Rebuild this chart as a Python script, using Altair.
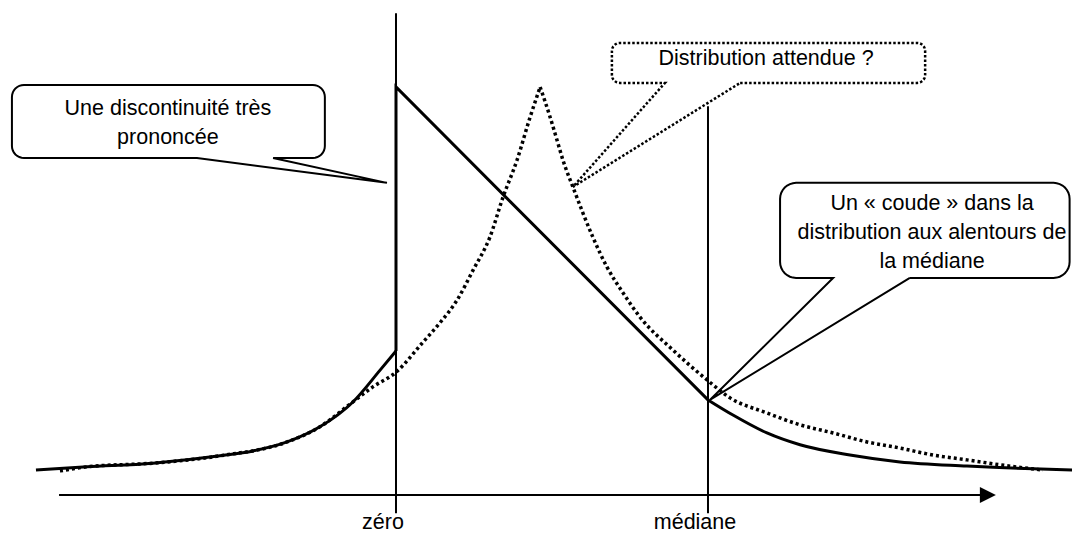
import math
import altair as alt
import pandas as pd

# ---- units: x = position in % of the median (zéro = 0, médiane = 100)
#             y = density, peak = 100
X_MIN, X_MAX = -124.36, 216.67
Y_MIN, Y_MAX = -9.81, 119.36
W, H = 1064, 527

# observed distribution (solid)
solid_left_x = [-115.4, -99.0, -77.9, -56.4, -45.8, -34.9, -24.4, -13.8, -5.1, 0.0]
solid_left_y = [6.1, 6.9, 7.8, 9.6, 10.8, 13.0, 16.7, 22.8, 30.6, 35.3]
solid_mid_x = [0.0, 0.0, 100.0]
solid_mid_y = [35.3, 100.0, 23.3]
solid_right_x = [100.0, 108.0, 118.9, 129.5, 145.5, 161.5, 183.0, 204.2, 219.2]
solid_right_y = [23.3, 19.6, 15.2, 12.3, 9.8, 8.1, 7.1, 6.4, 6.1]

# expected distribution (dotted)
dotted_left_x = [-107.7, -99.0, -77.9, -56.4, -34.9, -24.4, -14.7, -7.4, 0.0, 8.7, 14.1,
                 19.6, 24.7, 30.1, 34.3, 38.8, 42.9, 46.2]
dotted_left_y = [5.9, 6.9, 7.8, 9.6, 13.0, 16.7, 22.3, 26.5, 30.1, 37.5, 42.2,
                 47.8, 55.1, 63.2, 73.0, 82.1, 92.4, 100.0]
dotted_right_x = [46.2, 49.4, 51.6, 53.5, 56.7, 63.1, 67.6, 72.8, 78.2, 88.8, 99.7,
                  107.1, 118.9, 129.5, 140.1, 151.0, 161.5, 172.1, 183.0, 193.6, 207.4]
dotted_right_y = [100.0, 92.6, 87.0, 82.1, 75.5, 63.2, 55.9, 49.5, 43.6, 35.5, 28.2,
                  23.8, 20.1, 17.2, 15.2, 13.0, 11.5, 9.8, 8.6, 7.4, 6.1]

# reference lines and axis
ref_names = ["zéro", "médiane"]
ref_x = [0.0, 100.0]
ref_top = [118.1, 95.3]
ref_bottom = [-4.5, -4.5]
axis_start, axis_end, arrow_x = -108.0, 187.8, 189.7
label_y = -8.3

# callouts
callout_names = ["discontinuite", "attendue", "coude"]
box_left = [-123.1, 69.2, 123.1]
box_right = [-22.8, 169.6, 215.9]
box_bottom = [82.6, 101.0, 53.2]
box_top = [100.5, 110.8, 76.5]
tail_base_left = [-63.8, 86.2, 140.1]
tail_base_right = [-39.4, 110.3, 164.7]
tail_tip_x = [-2.9, 56.7, 100.6]
tail_tip_y = [76.5, 75.5, 23.3]
corner_px = [12, 8, 16]
callout_dotted = [False, True, False]

text_lines = ["Une discontinuité très", "prononcée", "Distribution attendue ?",
              "Un « coude » dans la", "distribution aux alentours de", "la médiane"]
text_x = [-73.1, -73.1, 118.6, 171.8, 171.8, 171.8]
text_y = [93.1, 86.0, 105.3, 69.8, 62.7, 55.6]

FONT = "Liberation Sans, Arial, sans-serif"
FS = 21.5

px_x = W / (X_MAX - X_MIN)
px_y = H / (Y_MAX - Y_MIN)


def outline(k):
    xl, xr, yb, yt = box_left[k], box_right[k], box_bottom[k], box_top[k]
    rx, ry = corner_px[k] / px_x, corner_px[k] / px_y
    pts = [(tail_base_right[k], yb)]

    def arc(cx, cy, a0, a1, n=8):
        for j in range(n + 1):
            a = math.radians(a0 + (a1 - a0) * j / n)
            pts.append((cx + rx * math.cos(a), cy + ry * math.sin(a)))

    arc(xr - rx, yb + ry, -90, 0)
    arc(xr - rx, yt - ry, 0, 90)
    arc(xl + rx, yt - ry, 90, 180)
    arc(xl + rx, yb + ry, 180, 270)
    pts.append((tail_base_left[k], yb))
    pts.append((tail_tip_x[k], tail_tip_y[k]))
    pts.append((tail_base_right[k], yb))
    return [{"c": callout_names[k], "i": i, "x": p[0], "y": p[1],
             "dotted": callout_dotted[k]} for i, p in enumerate(pts)]


rows = []
for k in range(len(callout_names)):
    rows += outline(k)
callouts = pd.DataFrame(rows)


def seg(name, xs, ys):
    return [{"seg": name, "i": i, "x": a, "y": b} for i, (a, b) in enumerate(zip(xs, ys))]


tails = pd.DataFrame(seg("L", solid_left_x, solid_left_y) + seg("R", solid_right_x, solid_right_y))
mid = pd.DataFrame(seg("M", solid_mid_x, solid_mid_y))
dotted = pd.DataFrame(seg("L", dotted_left_x, dotted_left_y) + seg("R", dotted_right_x, dotted_right_y))

xs = alt.Scale(domain=[X_MIN, X_MAX], nice=False, zero=False)
ys = alt.Scale(domain=[Y_MIN, Y_MAX], nice=False, zero=False)
X = lambda f="x": alt.X(f"{f}:Q", scale=xs, axis=None)
Y = lambda f="y": alt.Y(f"{f}:Q", scale=ys, axis=None)

refs = pd.DataFrame({"name": ref_names, "x": ref_x, "top": ref_top, "bottom": ref_bottom,
                     "ly": [label_y] * 2})
ref_rules = alt.Chart(refs).mark_rule(color="black", strokeWidth=2).encode(
    x=X(), y=Y("bottom"), y2="top:Q")
ref_labels = alt.Chart(refs).mark_text(font=FONT, fontSize=FS, color="black", align="center",
                                       baseline="alphabetic", dx=-13).encode(
    x=X(), y=Y("ly"), text="name:N")

axis_df = pd.DataFrame({"x": [axis_start], "x2": [axis_end], "y": [0.0], "ax": [arrow_x]})
axis_rule = alt.Chart(axis_df).mark_rule(color="black", strokeWidth=2).encode(
    x=X(), x2="x2:Q", y=Y())
arrow = alt.Chart(axis_df).mark_point(shape="M-1,-1L1,0L-1,1Z", size=256, filled=True,
                                      color="black", opacity=1).encode(x=X("ax"), y=Y())

dotted_layer = alt.Chart(dotted).mark_line(color="black", strokeWidth=3.5, strokeDash=[3, 3],
                                           interpolate="monotone").encode(
    x=X(), y=Y(), detail="seg:N", order="i:Q")
tails_layer = alt.Chart(tails).mark_line(color="black", strokeWidth=3,
                                         interpolate="monotone").encode(
    x=X(), y=Y(), detail="seg:N", order="i:Q")
mid_layer = alt.Chart(mid).mark_line(color="black", strokeWidth=3, strokeJoin="miter").encode(
    x=X(), y=Y(), order="i:Q")

solid_boxes = alt.Chart(callouts[~callouts.dotted]).mark_line(
    color="black", strokeWidth=2, strokeJoin="miter").encode(
    x=X(), y=Y(), detail="c:N", order="i:Q")
dotted_boxes = alt.Chart(callouts[callouts.dotted]).mark_line(
    color="black", strokeWidth=2.5, strokeDash=[2.5, 2]).encode(
    x=X(), y=Y(), detail="c:N", order="i:Q")

texts = pd.DataFrame({"t": text_lines, "x": text_x, "y": text_y})
text_layer = alt.Chart(texts).mark_text(font=FONT, fontSize=FS, color="black", align="center",
                                        baseline="alphabetic").encode(
    x=X(), y=Y(), text="t:N")

chart = alt.layer(
    ref_rules, axis_rule, arrow, dotted_layer, tails_layer, mid_layer,
    solid_boxes, dotted_boxes, text_layer, ref_labels
).properties(
    width=W, height=H, padding=0, autosize=alt.AutoSizeParams(type="none"),
    background="white"
).configure_view(stroke=None)

chart.save("out.html", embed_options={"renderer": "svg", "actions": False})
